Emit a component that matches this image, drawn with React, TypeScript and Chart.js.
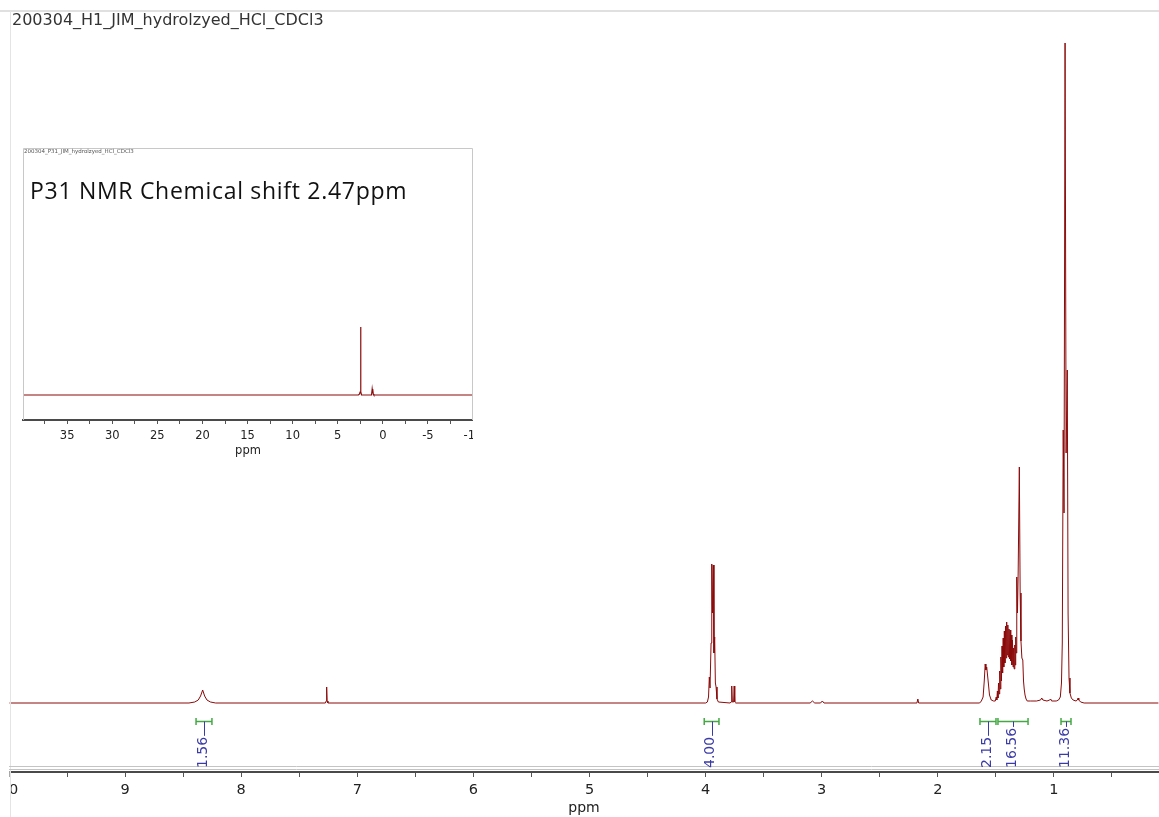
import React, { useEffect, useRef } from "react";
import { Chart, registerables } from "chart.js";

Chart.register(...registerables);

// ---------- data ----------
const mainTitle = "200304_H1_JIM_hydrolzyed_HCl_CDCl3";
const insetTitle = "200304_P31_JIM_hydrolzyed_HCl_CDCl3";
const insetNote = "P31 NMR Chemical shift 2.47ppm";
const axisTitle = "ppm";

// 1H spectrum: chemical shift (ppm) and intensity (a.u.)
const h1Ppm = [
  10.0, 8.45, 8.4, 8.37, 8.35, 8.332, 8.315, 8.295, 8.265, 8.22,
  7.275, 7.268, 7.264, 7.26, 7.253,
  4.0, 3.985, 3.975, 3.968, 3.962, 3.953, 3.947, 3.941, 3.934, 3.928, 3.922, 3.916, 3.91, 3.902, 3.89,
  3.79, 3.779, 3.775, 3.77, 3.759, 3.754, 3.749, 3.74,
  3.1, 3.08, 3.06, 3.01, 2.995, 2.98,
  2.18, 2.172, 2.165,
  1.64, 1.625, 1.61, 1.6, 1.592, 1.586, 1.579, 1.572, 1.565, 1.555, 1.54, 1.52,
  1.505, 1.497, 1.492, 1.487, 1.482, 1.477, 1.472, 1.467, 1.462, 1.457, 1.452, 1.447, 1.442, 1.437, 1.432,
  1.427, 1.422, 1.417, 1.412, 1.407, 1.402, 1.397, 1.392, 1.387, 1.382, 1.377, 1.372, 1.367, 1.362,
  1.357, 1.352, 1.347, 1.342, 1.337, 1.333, 1.329, 1.325, 1.32, 1.314, 1.308, 1.298,
  1.291, 1.284, 1.276, 1.268, 1.262, 1.256, 1.249, 1.24, 1.23, 1.2, 1.15, 1.115, 1.105, 1.095,
  1.06, 1.036, 1.028, 1.02, 0.98, 0.96, 0.945, 0.935, 0.928, 0.92, 0.913, 0.904, 0.895, 0.885,
  0.878, 0.87, 0.862, 0.85, 0.835, 0.81, 0.798, 0.792, 0.786, 0.77, 0.74, 0.1,
];
const h1Intensity = [
  0, 0, 1, 3, 7, 13, 7, 3, 1, 0,
  0, 2, 16, 2, 0,
  0, 1, 6, 26, 15, 60, 139, 90, 138, 50, 66, 20, 16, 4, 1,
  0, 1, 17, 1, 1, 17, 1, 0,
  0, 2, 0, 0, 2, 0,
  0, 4, 0,
  0, 2, 6, 22, 39, 33, 36, 28, 20, 8, 3, 2,
  2, 6, 3, 12, 5, 20, 9, 32, 14, 46, 22, 57, 30, 65, 36,
  72, 40, 77, 45, 81, 48, 78, 46, 74, 44, 73, 42, 68, 38,
  63, 36, 55, 34, 58, 38, 66, 50, 126, 90, 130, 236,
  110, 62, 45, 43, 22, 14, 8, 4, 2, 2, 2, 3, 5, 3,
  2, 3, 4, 2, 2, 3, 6, 20, 60, 273, 190, 660, 250, 333,
  90, 25, 10, 5, 3, 2, 3, 5, 3, 1, 0, 0,
];

// 31P spectrum (inset)
const p31Ppm = [39.9, 2.7, 2.58, 2.52, 2.47, 2.42, 2.36, 1.25, 1.18, 1.14, 1.1, 1.06, 1.0, -10];
const p31Intensity = [0, 0, 1, 3, 68, 3, 0, 0, 6, 2, 6, 1, 0, 0];

// integrals
const integralStart = [8.389, 4.012, 1.637, 1.482, 0.939];
const integralEnd = [8.252, 3.885, 1.499, 1.223, 0.853];
const integralValues = ["1.56", "4.00", "2.15", "16.56", "11.36"];

// ---------- styling ----------
const FONT = '"DejaVu Sans", Verdana, sans-serif';
const SPECTRUM = "#8b0a0a";
const W = 1159;
const H = 817;

const mainDecor = {
  id: "mainDecor",
  beforeDraw(chart: any) {
    const ctx = chart.ctx;
    ctx.save();
    ctx.beginPath();
    ctx.rect(9.5, 0, chart.width, chart.height);
    ctx.clip();
  },
  afterDraw(chart: any) {
    const ctx = chart.ctx;
    ctx.restore();
    const xs = chart.scales.x;
    const { left, right } = chart.chartArea;
    ctx.save();
    // frame
    ctx.strokeStyle = "#d6d6d6";
    ctx.lineWidth = 1.5;
    ctx.beginPath();
    ctx.moveTo(0, 11);
    ctx.lineTo(chart.width, 11);
    ctx.stroke();
    ctx.strokeStyle = "#e4e4e4";
    ctx.lineWidth = 1;
    ctx.beginPath();
    ctx.moveTo(10.5, 11);
    ctx.lineTo(10.5, chart.height);
    ctx.stroke();
    // integral area bottom lines
    ctx.strokeStyle = "#c4c4c4";
    [766.5, 769.5].forEach((y) => {
      ctx.beginPath();
      ctx.moveTo(left, y);
      ctx.lineTo(right, y);
      ctx.stroke();
    });
    // title
    ctx.fillStyle = "#333";
    ctx.font = `16px ${FONT}`;
    ctx.textAlign = "left";
    ctx.textBaseline = "alphabetic";
    ctx.fillText(mainTitle, 12, 25);
    // integrals
    integralStart.forEach((s, i) => {
      const x1 = xs.getPixelForValue(s);
      const x2 = xs.getPixelForValue(integralEnd[i]);
      const cx = (x1 + x2) / 2;
      ctx.strokeStyle = "#45a845";
      ctx.lineWidth = 1.5;
      ctx.beginPath();
      ctx.moveTo(x1, 721.5);
      ctx.lineTo(x2, 721.5);
      ctx.moveTo(x1, 718);
      ctx.lineTo(x1, 725);
      ctx.moveTo(x2, 718);
      ctx.lineTo(x2, 725);
      ctx.stroke();
      ctx.font = `14px ${FONT}`;
      const w = ctx.measureText(integralValues[i]).width;
      const start = 768;
      ctx.strokeStyle = "#3b3ba8";
      ctx.lineWidth = 1;
      ctx.beginPath();
      ctx.moveTo(Math.round(cx) + 0.5, 721.5);
      ctx.lineTo(Math.round(cx) + 0.5, start - w - 1);
      ctx.stroke();
      ctx.save();
      ctx.translate(cx - 1, start);
      ctx.rotate(-Math.PI / 2);
      ctx.fillStyle = "#3b3ba8";
      ctx.textAlign = "left";
      ctx.textBaseline = "middle";
      ctx.fillText(integralValues[i], 0, 0);
      ctx.restore();
    });
    ctx.restore();
  },
};

const insetDecor = {
  id: "insetDecor",
  beforeDraw(chart: any) {
    const ctx = chart.ctx;
    ctx.save();
    ctx.fillStyle = "#ffffff";
    ctx.fillRect(0, 0, chart.width, chart.height);
    ctx.restore();
  },
  afterDraw(chart: any) {
    const ctx = chart.ctx;
    const { left, right, top, bottom } = chart.chartArea;
    ctx.save();
    ctx.strokeStyle = "#c8c8c8";
    ctx.lineWidth = 1;
    ctx.beginPath();
    ctx.moveTo(left + 0.5, bottom);
    ctx.lineTo(left + 0.5, top + 0.5);
    ctx.lineTo(right - 0.5, top + 0.5);
    ctx.lineTo(right - 0.5, bottom);
    ctx.stroke();
    ctx.fillStyle = "#555";
    ctx.font = `5.5px ${FONT}`;
    ctx.textAlign = "left";
    ctx.textBaseline = "top";
    ctx.fillText(insetTitle, left + 1, top + 0.5);
    ctx.fillStyle = "#111";
    ctx.font = `23px "Open Sans", sans-serif`;
    try {
      (ctx as any).letterSpacing = "0.7px";
    } catch (e) {}
    ctx.textBaseline = "alphabetic";
    ctx.fillText(insetNote, 18, 59);
    ctx.restore();
  },
};

export default function App() {
  const mainRef = useRef<HTMLCanvasElement | null>(null);
  const insetRef = useRef<HTMLCanvasElement | null>(null);

  useEffect(() => {
    Chart.defaults.font.family = FONT;
    const mainChart = new Chart(mainRef.current as HTMLCanvasElement, {
      type: "line",
      data: {
        datasets: [
          {
            data: h1Ppm.map((x, i) => ({ x, y: h1Intensity[i] })),
            borderColor: SPECTRUM,
            borderWidth: 1,
            pointRadius: 0,
            tension: 0,
          },
        ],
      },
      options: {
        responsive: false,
        animation: false,
        devicePixelRatio: 1,
        events: [],
        layout: { padding: { left: 9, top: 11, right: 0, bottom: 0 }, autoPadding: false },
        plugins: { legend: { display: false }, tooltip: { enabled: false } },
        scales: {
          x: {
            type: "linear",
            reverse: true,
            min: 0.095,
            max: 10,
            afterFit: (s: any) => {
              s.height = 45;
              s.paddingLeft = 0;
              s.paddingRight = 0;
            },
            ticks: {
              stepSize: 0.5,
              autoSkip: false,
              maxRotation: 0,
              minRotation: 0,
              includeBounds: false,
              padding: 5,
              color: "#222",
              font: { size: 14.5, family: FONT },
              callback: (v: any) => (Number.isInteger(v) ? String(v) : ""),
            },
            grid: { drawOnChartArea: false, drawTicks: true, tickLength: 5, tickColor: "#555", tickWidth: 1 },
            border: { display: true, color: "#4a4a4a", width: 2 },
            title: {
              display: true,
              text: axisTitle,
              color: "#222",
              font: { size: 14, family: FONT },
              padding: { top: 0, bottom: 0 },
            },
          },
          y: { display: false, min: -69, max: 692 },
        },
      } as any,
      plugins: [mainDecor],
    });

    const insetChart = new Chart(insetRef.current as HTMLCanvasElement, {
      type: "line",
      data: {
        datasets: [
          {
            data: p31Ppm.map((x, i) => ({ x, y: p31Intensity[i] })),
            borderColor: SPECTRUM,
            borderWidth: 1.2,
            pointRadius: 0,
            tension: 0,
          },
        ],
      },
      options: {
        responsive: false,
        animation: false,
        devicePixelRatio: 1,
        events: [],
        layout: { padding: { left: 11, top: 8, right: 0, bottom: 0 }, autoPadding: false },
        plugins: { legend: { display: false }, tooltip: { enabled: false } },
        scales: {
          x: {
            type: "linear",
            reverse: true,
            min: -10,
            max: 39.9,
            afterFit: (s: any) => {
              s.height = 45;
              s.paddingLeft = 0;
              s.paddingRight = 0;
            },
            ticks: {
              stepSize: 2.5,
              autoSkip: false,
              maxRotation: 0,
              minRotation: 0,
              includeBounds: false,
              padding: 5,
              color: "#222",
              font: { size: 11.5, family: FONT },
              callback: (v: any) => (v % 5 === 0 ? String(v) : ""),
            },
            grid: { drawOnChartArea: false, drawTicks: true, tickLength: 4, tickColor: "#555", tickWidth: 1 },
            border: { display: true, color: "#4a4a4a", width: 2 },
            title: {
              display: true,
              text: axisTitle,
              color: "#222",
              font: { size: 11.5, family: FONT },
              padding: { top: 0, bottom: 7 },
            },
          },
          y: { display: false, min: -25, max: 247 },
        },
      } as any,
      plugins: [insetDecor],
    });

    return () => {
      mainChart.destroy();
      insetChart.destroy();
    };
  }, []);

  return (
    <div style={{ position: "fixed", left: 0, top: 0, width: W, height: H, background: "#fff" }}>
      <canvas ref={mainRef} width={W} height={H} style={{ position: "absolute", left: 0, top: 0, width: W, height: H }} />
      <canvas
        ref={insetRef}
        width={461}
        height={325}
        style={{ position: "absolute", left: 12, top: 140, width: 461, height: 325 }}
      />
    </div>
  );
}
